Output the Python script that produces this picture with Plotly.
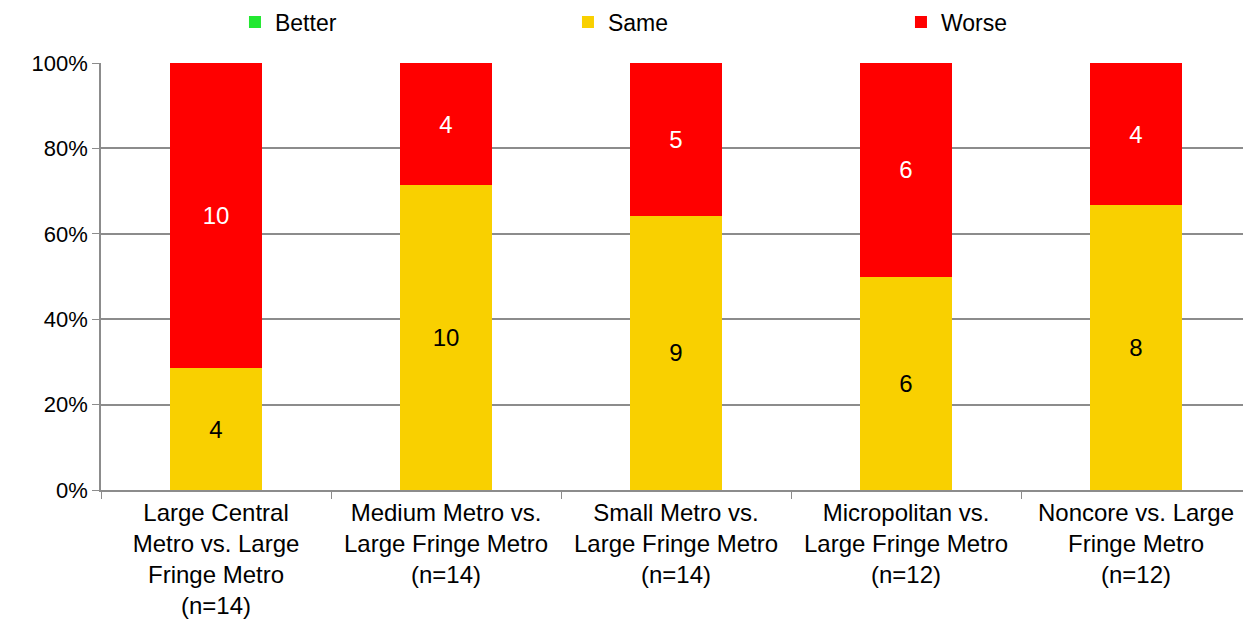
import plotly.graph_objects as go

categories = [
    "Large Central<br>Metro vs. Large<br>Fringe Metro<br>(n=14)",
    "Medium Metro vs.<br>Large Fringe Metro<br>(n=14)",
    "Small Metro vs.<br>Large Fringe Metro<br>(n=14)",
    "Micropolitan vs.<br>Large Fringe Metro<br>(n=12)",
    "Noncore vs. Large<br>Fringe Metro<br>(n=12)",
]
better = [0, 0, 0, 0, 0]
same = [4, 10, 9, 6, 8]
worse = [10, 4, 5, 6, 4]

FONT = "Liberation Sans, Arial, sans-serif"
GRID = "#8C8C8C"


def labels(vals):
    return [str(v) if v else "" for v in vals]


fig = go.Figure()
fig.add_trace(go.Bar(x=categories, y=better, name="Better", marker_color="#22E831",
                     text=labels(better), textposition="inside"))
fig.add_trace(go.Bar(x=categories, y=same, name="Same", marker_color="#F9D000",
                     text=labels(same), textposition="inside",
                     textfont=dict(color="black", size=24)))
fig.add_trace(go.Bar(x=categories, y=worse, name="Worse", marker_color="#FF0000",
                     text=labels(worse), textposition="inside",
                     textfont=dict(color="white", size=24)))

fig.update_traces(marker_line_width=0, insidetextanchor="middle")
# the page body adds an 8px offset, margins compensate for it
fig.update_layout(
    width=1251, height=625,
    barmode="stack", barnorm="percent", bargap=0.6,
    plot_bgcolor="white", paper_bgcolor="white",
    font=dict(family=FONT, size=22, color="black"),
    margin=dict(l=93, r=8, t=55, b=143, autoexpand=False),
    uniformtext=dict(mode="show", minsize=20),
    legend=dict(orientation="h", x=0.1165, xanchor="left", y=1.096, yanchor="middle",
                entrywidth=288, entrywidthmode="pixels",
                traceorder="normal", font=dict(size=23), itemwidth=30),
)
fig.update_yaxes(range=[0, 100], dtick=20, ticksuffix="%", showgrid=True,
                 gridcolor=GRID, gridwidth=1.5, showline=True, linecolor=GRID,
                 linewidth=1.5, ticks="outside", ticklen=7, tickcolor=GRID,
                 tickfont=dict(size=22), zeroline=False, automargin=False)
fig.update_xaxes(tickson="boundaries", ticks="outside", ticklen=7, tickcolor=GRID,
                 showline=True, linecolor=GRID, linewidth=1.5, tickfont=dict(size=24),
                 automargin=False)

fig.write_html("out.html")
